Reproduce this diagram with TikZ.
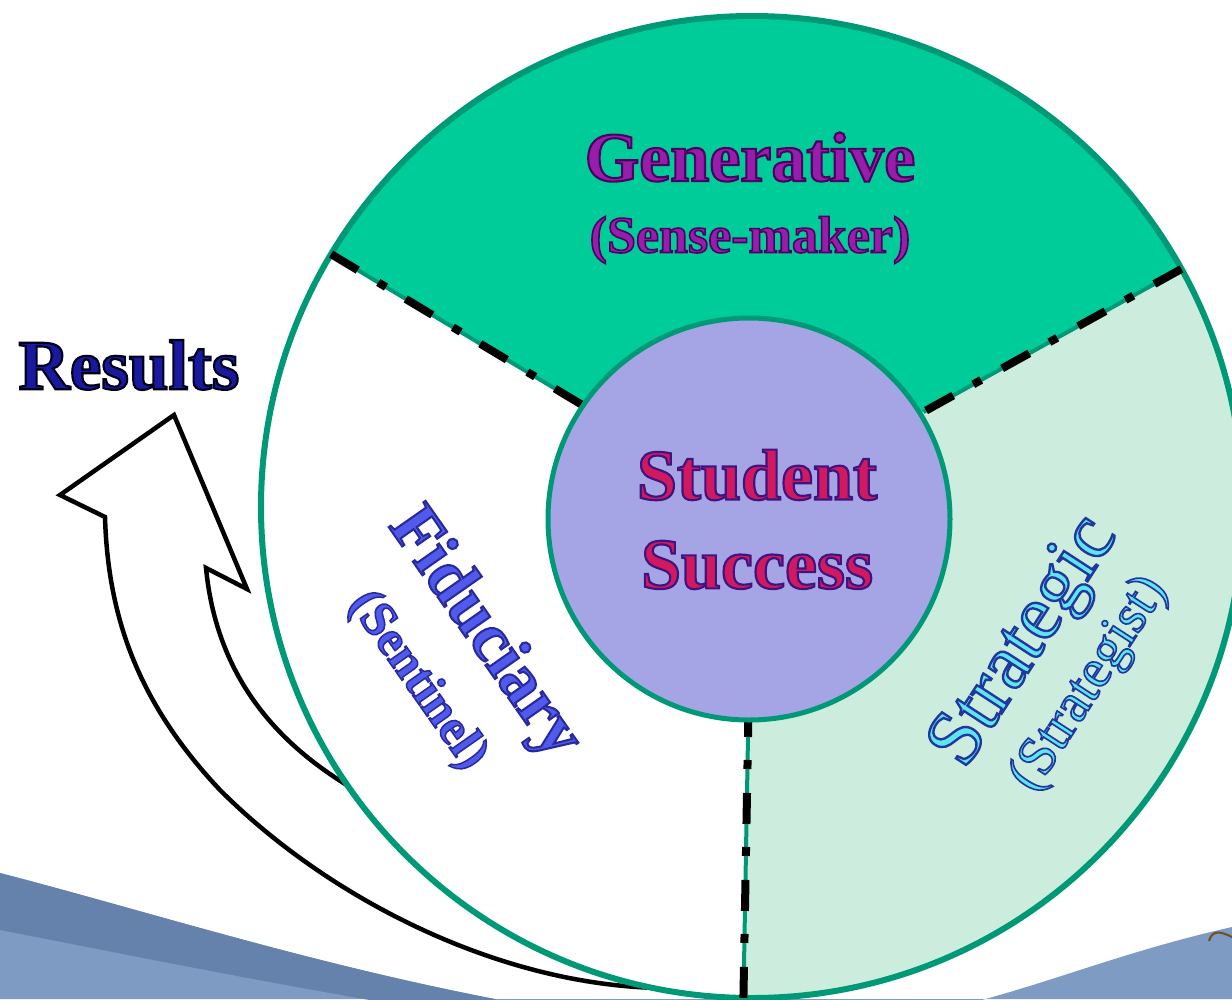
\documentclass[tikz,border=0pt]{standalone}
\usepackage{fontspec}
\setmainfont{Liberation Serif}
\newfontfamily\artbold[FakeBold=3]{Liberation Serif Bold}
\newfontfamily\artreg[FakeBold=3]{Liberation Serif}
\newcommand{\strokecol}[3]{\special{pdf:code #1 #2 #3 RG}}
\definecolor{ringgreen}{RGB}{0,153,119}
\definecolor{topfill}{RGB}{0,204,153}
\definecolor{rightfill}{RGB}{204,236,221}
\definecolor{innerfill}{RGB}{165,165,230}
\definecolor{swooshdark}{RGB}{100,130,172}
\definecolor{swooshlight}{RGB}{126,155,195}
\definecolor{curlbrown}{RGB}{110,80,30}
\definecolor{genfill}{RGB}{150,30,170}
\definecolor{ssfill}{RGB}{210,25,95}
\definecolor{resfill}{RGB}{25,25,160}
\definecolor{fidfill}{RGB}{80,90,235}
\definecolor{strfill}{RGB}{95,228,242}
\tikzset{
  lbl/.style={inner sep=0pt, align=center},
  ring/.style={draw=ringgreen, line width=6pt},
  sepgreen/.style={draw=ringgreen, line width=4pt},
  sepdash/.style={draw=black, line width=8pt, dash pattern=on 31pt off 24pt on 9pt off 23pt},
  arrowline/.style={draw=black, line width=4.5pt, line join=miter, fill=white}
}
\begin{document}
\begin{tikzpicture}[x=1pt,y=-1pt]
\useasboundingbox (0,0) rectangle (1232,999);
\clip (0,0) rectangle (1232,999);
\fill[white] (0,0) rectangle (1232,999);
% background swoosh
\fill[swooshlight] (0,873) .. controls (200,925) and (420,1000) .. (700,1030)
   .. controls (950,1040) and (1040,970) .. (1232,927) -- (1232,999) -- (0,999) -- cycle;
\fill[swooshdark] (0,873) .. controls (200,925) and (420,1000) .. (700,1030)
   -- (600,1035) .. controls (400,1010) and (180,965) .. (0,930) -- cycle;
\draw[curlbrown, line width=2pt] (1209,941) .. controls (1212,930) and (1220,931) .. (1232,937);
% curved block arrow
\coordinate (apex) at (174,415);
\draw[arrowline] (apex) -- (247,589) -- (206,568)
  .. controls (215,660) and (260,730) .. (342,782)
  .. controls (370,800) and (395,820) .. (420,835) -- (660,988)
  .. controls (500,985) and (330,900) .. (220,790)
  .. controls (140,705) and (108,620) .. (105,517)
  -- (60,495) -- cycle;
% sectors
\fill[topfill] (752,507) -- ([shift={(752,507)}]29:491pt) arc[start angle=29, end angle=149, radius=491pt] -- cycle;
\fill[rightfill] (752,507) -- ([shift={(752,507)}]-91:491pt) arc[start angle=-91, end angle=29, radius=491pt] -- cycle;
\fill[white] (752,507) -- ([shift={(752,507)}]149:491pt) arc[start angle=149, end angle=269, radius=491pt] -- cycle;
\draw[ring] (752,507) circle[radius=491pt];
% dividers
\foreach \a in {149,29,-91}{
  \draw[sepgreen] ([shift={(752,507)}]\a:491pt) -- ([shift={(752,507)}]\a:196pt);
  \draw[sepdash] ([shift={(752,507)}]\a:491pt) -- ([shift={(752,507)}]\a:196pt);
}
% core circle
\node[circle, fill=innerfill, draw=ringgreen, line width=5pt, minimum size=402pt, inner sep=0pt] (core) at (749,519) {};
% labels
\node[lbl, font=\artbold\fontsize{70}{80}\selectfont, text=genfill] (gen) at (750,157) {\strokecol{0.3}{0}{0.38}Generative};
\node[lbl, font=\artbold\fontsize{52}{60}\selectfont, text=genfill] (gensub) at (750,240) {\strokecol{0.3}{0}{0.38}(Sense-maker)};
\node[lbl, font=\artbold\fontsize{72}{90}\selectfont, text=ssfill] (stu) at (757,475) {\strokecol{0.25}{0.08}{0.5}Student};
\node[lbl, font=\artbold\fontsize{72}{90}\selectfont, text=ssfill] (suc) at (757,565) {\strokecol{0.25}{0.08}{0.5}Success};
\node[lbl, font=\artbold\fontsize{71}{80}\selectfont, text=resfill] (res) at (129,365) {\strokecol{0}{0}{0.1}Results};
\node[lbl, font=\artbold\fontsize{69}{77}\selectfont, text=fidfill, rotate=-55] (fid) at (454,655)
  {\strokecol{0.16}{0.16}{0.62}Fiduciary\\{\fontsize{50}{77}\selectfont\strokecol{0.16}{0.16}{0.62}(Sentinel)}};
\node[lbl, font=\artreg\fontsize{79}{71}\selectfont, text=strfill, rotate=57] (str) at (1054,661)
  {\strokecol{0.12}{0.22}{0.62}Strategic\\{\fontsize{55}{71}\selectfont\strokecol{0.12}{0.22}{0.62}(Strategist)}};
\end{tikzpicture}
\end{document}
